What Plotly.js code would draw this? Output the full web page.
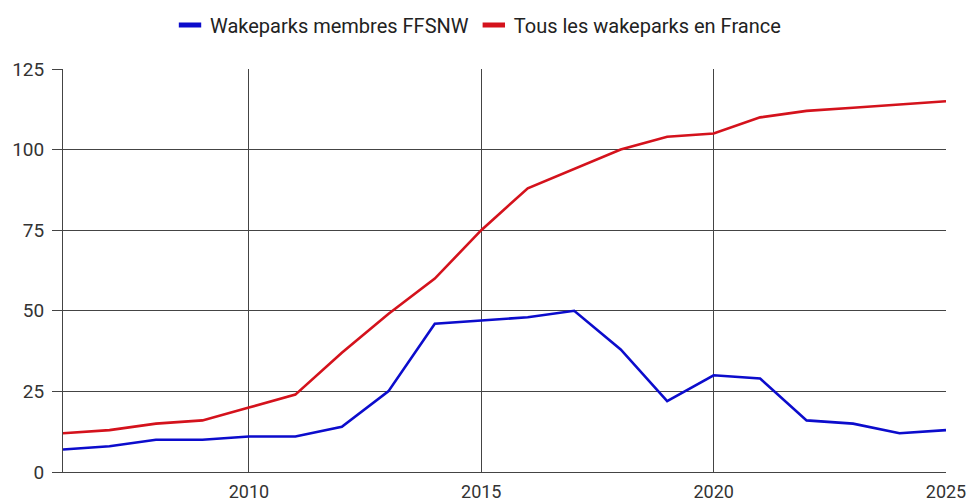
<!DOCTYPE html>
<html>
<head>
<meta charset="utf-8">
<script src="https://cdn.plot.ly/plotly-3.0.1.min.js"></script>
<style>
  html, body { margin: 0; padding: 0; background: #fff; }
  #chart { width: 969px; height: 503px; }
</style>
</head>
<body>
<div id="chart"></div>
<script>
// Wakeparks en France, par année
const years = [2006, 2007, 2008, 2009, 2010, 2011, 2012, 2013, 2014, 2015,
               2016, 2017, 2018, 2019, 2020, 2021, 2022, 2023, 2024, 2025];
const ffsnw = [7, 8, 10, 10, 11, 11, 14, 25, 46, 47,
               48, 50, 38, 22, 30, 29, 16, 15, 12, 13];
const allParks = [12, 13, 15, 16, 20, 24, 37, 49, 60, 75,
                  88, 94, 100, 104, 105, 110, 112, 113, 114, 115];

const seriesNames = ['Wakeparks membres FFSNW', 'Tous les wakeparks en France'];
const blue = '#0c0ccc';
const red = '#d4121c';

const xTicks = [2010, 2015, 2020, 2025];
const yTicks = [0, 25, 50, 75, 100, 125];

const traces = [];

// the curves themselves
traces.push({
    x: years, y: ffsnw, mode: 'lines', showlegend: false,
    line: { color: blue, width: 2.6 }, hoverinfo: 'x+y'
});
traces.push({
    x: years, y: allParks, mode: 'lines', showlegend: false,
    line: { color: red, width: 2.6 }, hoverinfo: 'x+y'
});

// legend entries: short thick dash like the reference
[[seriesNames[0], blue], [seriesNames[1], red]].forEach(([name, col]) => {
    traces.push({
        x: [null], y: [null], mode: 'markers', name: name,
        marker: { symbol: 'line-ew', size: 16, color: col, line: { color: col, width: 5 } }
    });
});

const layout = {
    width: 969,
    height: 503,
    paper_bgcolor: '#ffffff',
    plot_bgcolor: '#ffffff',
    font: { family: 'Roboto, sans-serif', size: 18, color: '#333333' },
    margin: { l: 63, r: 23, t: 69, b: 31, autoexpand: false },
    showlegend: true,
    legend: {
        orientation: 'h',
        x: 0.47, xanchor: 'center',
        y: 1.109, yanchor: 'middle',
        font: { size: 20, color: '#222222' },
        itemwidth: 30,
        traceorder: 'normal'
    },
    xaxis: {
        range: [2006, 2025],
        tickmode: 'array',
        tickvals: xTicks,
        ticktext: xTicks.map(String),
        showgrid: true,
        gridcolor: '#444444',
        gridwidth: 1,
        showline: true,
        linecolor: '#444444',
        linewidth: 1,
        zeroline: false,
        ticks: '',
        ticklabelstandoff: 3,
        tickfont: { size: 18, color: '#333333' },
        automargin: false,
        fixedrange: true
    },
    yaxis: {
        range: [0, 125],
        tickmode: 'array',
        tickvals: yTicks,
        showgrid: true,
        gridcolor: '#444444',
        gridwidth: 1,
        showline: true,
        linecolor: '#444444',
        linewidth: 1,
        zeroline: false,
        ticks: 'outside',
        ticklen: 10,
        tickcolor: '#444444',
        ticklabelstandoff: 4,
        tickfont: { size: 19, color: '#333333' },
        automargin: false,
        fixedrange: true
    }
};

Plotly.newPlot('chart', traces, layout, { displayModeBar: false });
</script>
</body>
</html>
